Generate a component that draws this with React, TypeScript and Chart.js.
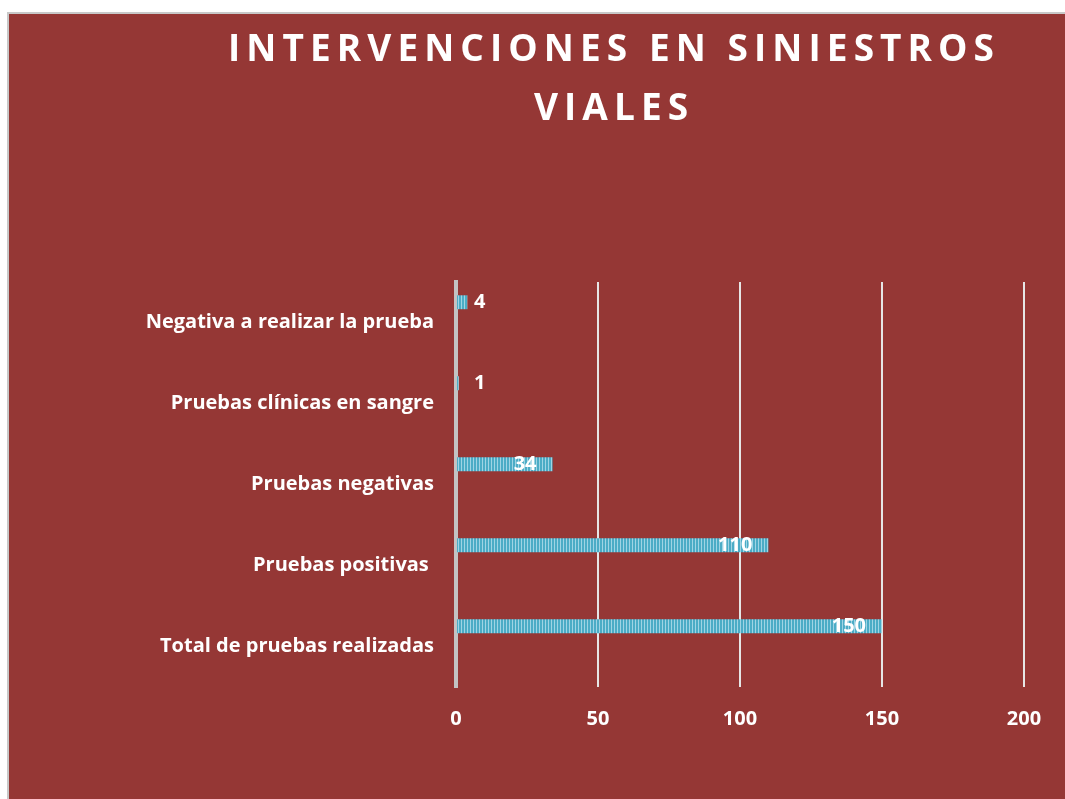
import React, { useEffect, useRef } from "react";
import { Chart, registerables } from "chart.js";

Chart.register(...registerables);

const categories = [
  "Negativa a realizar la prueba",
  "Pruebas clínicas en sangre",
  "Pruebas negativas",
  "Pruebas positivas ",
  "Total de pruebas realizadas",
];
const values = [4, 1, 34, 110, 150];
const placeholder = [null, null, null, null, null];
const xTicks = [0, 50, 100, 150, 200];
const titleLines = ["INTERVENCIONES EN SINIESTROS", "VIALES"];

const FONT = "'Open Sans', Lato, sans-serif";

function makePattern(): CanvasPattern | string {
  const c = document.createElement("canvas");
  c.width = 3;
  c.height = 1;
  const x = c.getContext("2d");
  if (!x) return "#4bacc6";
  x.fillStyle = "#4bacc6";
  x.fillRect(0, 0, 3, 1);
  x.fillStyle = "#9fd4e4";
  x.fillRect(2, 0, 1, 1);
  const p = x.createPattern(c, "repeat");
  return p || "#4bacc6";
}

const titlePlugin = {
  id: "spacedTitle",
  afterDraw(chart: any) {
    const ctx = chart.ctx;
    ctx.save();
    ctx.fillStyle = "#ffffff";
    ctx.font = `bold 37px ${FONT}`;
    (ctx as any).letterSpacing = "0px";
    const w = ctx.measureText(titleLines[0]).width;
    const n = titleLines[0].length;
    const sp = Math.max(0, (766 - w) / (n - 1));
    (ctx as any).letterSpacing = `${sp}px`;
    ctx.textAlign = "center";
    ctx.textBaseline = "middle";
    const cx = 602;
    ctx.fillText(titleLines[0], cx + sp / 2, 36);
    ctx.fillText(titleLines[1], cx + sp / 2, 95);
    ctx.restore();
  },
};

const labelPlugin = {
  id: "valueLabels",
  afterDatasetsDraw(chart: any) {
    const ctx = chart.ctx;
    const meta = chart.getDatasetMeta(0);
    ctx.save();
    ctx.fillStyle = "#ffffff";
    ctx.font = `bold 20px ${FONT}`;
    ctx.textBaseline = "middle";
    meta.data.forEach((el: any, i: number) => {
      const v = values[i];
      const w = el.x - el.base;
      if (w < 30) {
        ctx.textAlign = "left";
        ctx.fillText(String(v), el.base + 17, el.y);
      } else {
        ctx.textAlign = "right";
        ctx.fillText(String(v), el.x - 16, el.y);
      }
    });
    ctx.restore();
  },
};

export default function App() {
  const ref = useRef<HTMLCanvasElement>(null);
  useEffect(() => {
    if (!ref.current) return;
    const pattern = makePattern();
    const chart = new Chart(ref.current, {
      type: "bar",
      data: {
        labels: categories,
        datasets: [
          {
            label: "Valor",
            data: values,
            backgroundColor: pattern as any,
            borderWidth: 0,
            categoryPercentage: 1.0,
            barPercentage: 0.344,
          },
          {
            label: "",
            data: placeholder as any,
            backgroundColor: "transparent",
            borderWidth: 0,
            categoryPercentage: 1.0,
            barPercentage: 0.344,
          },
        ],
      },
      options: {
        indexAxis: "y",
        responsive: false,
        animation: false,
        layout: { padding: { top: 268, right: 41, left: 0, bottom: 0 } },
        plugins: {
          legend: { display: false },
          title: { display: false },
          tooltip: { enabled: false },
        },
        scales: {
          x: {
            min: 0,
            max: 200,
            afterBuildTicks: (s: any) => {
              s.ticks = xTicks.map((v) => ({ value: v }));
            },
            afterFit: (s: any) => {
              s.height = 112;
            },
            grid: {
              color: "#e6e6e6",
              lineWidth: 2,
              drawTicks: false,
            },
            border: { display: false },
            ticks: {
              color: "#ffffff",
              font: { family: FONT, size: 20, weight: "bold" },
              padding: 20,
            },
          },
          y: {
            afterFit: (s: any) => {
              s.width = 447;
            },
            grid: { display: false, drawTicks: false },
            border: { display: true, color: "#c3c3c3", width: 4 },
            ticks: {
              color: "#ffffff",
              font: { family: FONT, size: 20, weight: "bold" },
              padding: 22,
            },
          },
        },
      },
      plugins: [titlePlugin, labelPlugin],
    });
    return () => chart.destroy();
  }, []);

  return (
    <div
      style={{
        position: "fixed",
        left: 7,
        top: 12,
        width: 1058,
        height: 787,
        background: "#953735",
        borderTop: "2px solid #c8c8c8",
        borderLeft: "2px solid #c8c8c8",
        boxSizing: "border-box",
      }}
    >
      <canvas ref={ref} width={1056} height={785} style={{ display: "block" }} />
    </div>
  );
}
